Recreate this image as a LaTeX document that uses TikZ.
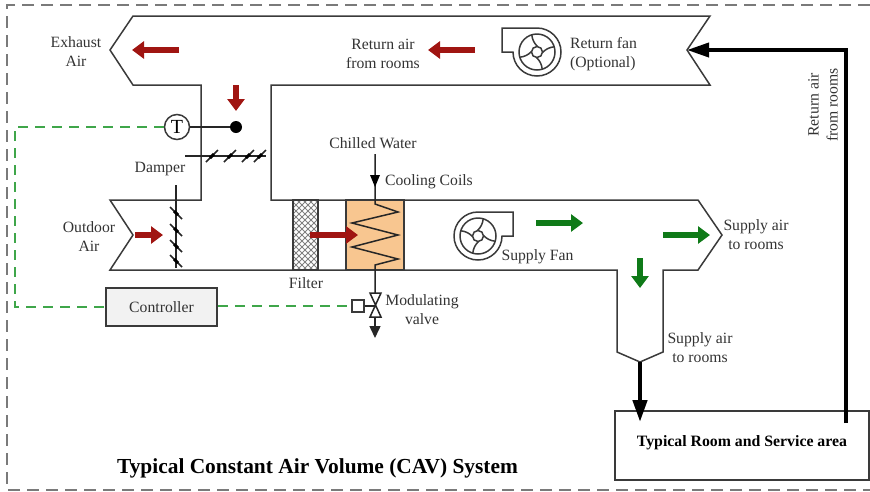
\documentclass[tikz,border=0pt]{standalone}
\usepackage{fontspec}
\setmainfont{Liberation Serif}
\usetikzlibrary{arrows.meta}

\definecolor{ductline}{HTML}{3A3A3A}
\definecolor{frameline}{HTML}{7A7A7A}
\definecolor{ctrlgreen}{HTML}{3FA64A}
\definecolor{redflow}{HTML}{A01512}
\definecolor{greenflow}{HTML}{0F7A18}
\definecolor{coilfill}{HTML}{F8C690}

\tikzset{
    duct/.style={draw=ductline, line width=1.5pt, line join=miter},
    lbl/.style={font=\fontsize{15.7}{19}\selectfont, align=center, text=black!80, inner sep=0pt},
    signal/.style={draw=ctrlgreen, line width=1.4pt, dash pattern=on 10pt off 7pt},
    redarrow/.style={draw=redflow, line width=5.5pt, -{Triangle[length=12pt,width=17pt]}},
    greenarrow/.style={draw=greenflow, line width=5.5pt, -{Triangle[length=12pt,width=17pt]}},
    mainarrow/.style={draw=black, line width=3.8pt, -{Triangle[length=22pt,width=14pt]}},
    thinline/.style={draw=black!85, line width=1.5pt},
    fanshape/.pic={
        \draw[draw=ductline, line width=1.5pt] (-35,-23) -- (0,-23) arc (-90:180:24) -- (-35,1) -- cycle;
        \draw[draw=ductline, line width=1.5pt] (0,1) circle (18) (0,1) circle (5.5);
        \foreach \a in {5,95,185,275} {
            \draw[draw=ductline, line width=1.5pt] ([shift={(0,1)}]\a:5.5) to[bend left=18] ([shift={(0,1)}]\a-22:18);
        }
    }
}

\begin{document}
\begin{tikzpicture}[x=1pt,y=-1pt]
    \useasboundingbox (0,0) rectangle (870,491);

    % outer frame
    \draw[frameline, line width=1.3pt, dash pattern=on 12pt off 7pt] (870,5) -- (7,5) -- (7,490) -- (870,490);

    % air ducts
    \fill[coilfill] (346,200) rectangle (404,270);
    \draw[duct] (133,16) -- (710,16) -- (687,50) -- (710,85) -- (271,85) -- (271,200) -- (698,200)
        -- (722,235) -- (698,270) -- (663,270) -- (663,352) -- (640,362) -- (617,352) -- (617,270)
        -- (110,270) -- (133,235) -- (110,200) -- (201,200) -- (201,85) -- (133,85) -- (110,50) -- cycle;

    % filter and coil
    \begin{scope}
        \clip (293,200) rectangle (318,270);
        \foreach \k in {0,1,...,24} {
            \draw[black!50, line width=0.9pt] (293,160+\k*6) -- (333,200+\k*6);
            \draw[black!50, line width=0.9pt] (293,160+\k*6) -- (333,120+\k*6);
        }
    \end{scope}
    \draw[draw=ductline, line width=1.8pt] (293,200) rectangle (318,270);
    \draw[duct] (346,200) rectangle (404,270);

    \coordinate (chilledtop) at (375,154);
    \coordinate (coiltop) at (375,204);
    \coordinate (coilbot) at (375,265);
    \draw[thinline] (chilledtop) -- (coiltop) -- (398,212) -- (352,223) -- (398,235) -- (352,247) -- (398,259) -- (coilbot) -- (375,293);
    \fill[black] (370,175) -- (380,175) -- (375,187) -- cycle;

    % dampers
    \draw[thinline] (185,156) -- (266,156);
    \draw[thinline] (176,185) -- (176,268);
    \foreach \x in {212,230,248,260} {
        \draw[thinline] (\x-6,162) -- (\x+6,150);
        \draw[black, line width=3pt] (\x-2,158) -- (\x+2,154);
    }
    \foreach \y in {213,230,246,261} {
        \draw[thinline] (170,\y-6) -- (182,\y+6);
        \draw[black, line width=3pt] (174,\y-2) -- (178,\y+2);
    }

    % sensor
    \node[draw=ductline, circle, fill=white, line width=1.5pt, minimum size=25pt, inner sep=0pt, font=\fontsize{20}{20}\selectfont] (sensor) at (177,127) {T};
    \node[circle, fill=black, minimum size=12pt, inner sep=0pt] (probe) at (236,127) {};
    \draw[thinline] (sensor) -- (probe);

    % valve
    \node[draw=ductline, fill=gray!10, line width=1.5pt, minimum width=111pt, minimum height=38pt, inner sep=0pt, font=\fontsize{15.7}{19}\selectfont, text=black!80] (controller) at (161.5,307) {Controller};
    \node[draw=ductline, fill=white, line width=1.5pt, minimum size=12pt, inner sep=0pt] (actuator) at (358,306) {};
    \coordinate (valvemid) at (375,306);
    \draw[thinline] (370,293) -- (381,293) -- (370,317) -- (381,317) -- cycle;
    \draw[thinline] (actuator) -- (valvemid);
    \coordinate (valveend) at (375,317);
    \coordinate (drain) at (375,338);
    \draw[thinline, -{Triangle[length=12pt,width=11pt]}] (valveend) -- (drain);

    % control signal
    \coordinate (leftup) at (15,127);
    \coordinate (leftdown) at (15,307);
    \draw[signal] (sensor) -- (leftup) -- (leftdown) -- (controller);
    \draw[signal] (controller.east |- actuator) -- (actuator);

    % fans
    \pic at (537,51) {fanshape};
    \pic[xscale=-1] at (478,235) {fanshape};

    % air flow arrows
    \draw[redarrow] (179,50) -- (132,50);
    \draw[redarrow] (475,50) -- (428,50);
    \draw[redarrow] (236,85) -- (236,111);
    \draw[redarrow] (135,235) -- (163,235);
    \draw[redarrow] (310,235) -- (358,235);
    \draw[greenarrow] (536,223) -- (583,223);
    \draw[greenarrow] (663,235) -- (710,235);
    \draw[greenarrow] (640,258) -- (640,288);

    % room
    \node[draw=ductline, line width=1.5pt, minimum width=254pt, minimum height=69pt, inner sep=0pt] (room) at (742,445.5) {};
    \node[font=\fontsize{15.8}{19}\selectfont\bfseries, inner sep=0pt] (roomtxt) at (742,443) {Typical Room and Service area};
    \coordinate (supplytip) at (640,362);
    \coordinate (roominlet) at (640,422);
    \coordinate (roomoutlet) at (846,423);
    \coordinate (corner) at (846,50);
    \coordinate (returntip) at (687,50);
    \draw[mainarrow, line width=4.4pt] (supplytip) -- (roominlet);
    \draw[mainarrow] (roomoutlet) -- (corner) -- (returntip);

    % labels
    \node[lbl] (exhaust) at (76,51.5) {Exhaust\\Air};
    \node[lbl] (returnair) at (383,53.5) {Return air\\from rooms};
    \node[lbl, align=left] (returnfan) at (603.5,54.5) {Return fan\\(Optional)};
    \node[lbl, rotate=90] (returnroom) at (823,105) {Return air\\from rooms};
    \node[lbl] (damperlbl) at (160,169) {Damper};
    \node[lbl] (chilled) at (373,143) {Chilled Water};
    \node[lbl] (coils) at (429,182) {Cooling Coils};
    \node[lbl] (outdoor) at (89,236.5) {Outdoor\\Air};
    \node[lbl] (filterlbl) at (306,283) {Filter};
    \node[lbl] (valvelbl) at (422,309.5) {Modulating\\valve};
    \node[lbl] (supplyfan) at (537.5,257) {Supply Fan};
    \node[lbl] (supplyone) at (756,234.5) {Supply air\\to rooms};
    \node[lbl] (supplytwo) at (700,347.5) {Supply air\\to rooms};

    \node[font=\fontsize{21.4}{24}\selectfont\bfseries, inner sep=0pt] (title) at (317.5,468) {Typical Constant Air Volume (CAV) System};
\end{tikzpicture}
\end{document}
